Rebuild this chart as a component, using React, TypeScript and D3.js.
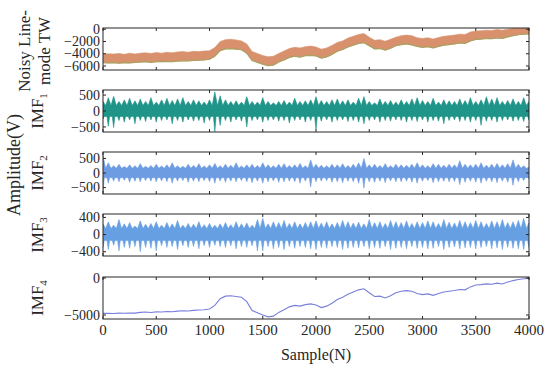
import * as d3 from 'd3';

// sample positions (every 50 samples)
const samples = d3.range(0, 4001, 50);
const xTicks = [0, 500, 1000, 1500, 2000, 2500, 3000, 3500, 4000];

// noisy line-mode travelling wave: upper / lower envelope
const noisyHi = [
  -4100, -4000, -4050, -3950, -4100, -3900, -4050, -3900, -3850, -3950,
  -3800, -3900, -3750, -3850, -3700, -3650, -3750, -3600, -3650, -3550,
  -3500, -3000, -2000, -1700, -1650, -1750, -1900, -2400, -3650, -3950,
  -4300, -4500, -4400, -3950, -3550, -3150, -2950, -3050, -2850, -2750,
  -2900, -3250, -3050, -2650, -2150, -1900, -1450, -1150, -850, -700,
  -1300, -1800, -1700, -1950, -1650, -1300, -1050, -950, -1050, -1400,
  -1500, -1400, -1600, -1350, -1150, -1050, -950, -800, -850, -450,
  -300, -250, -150, -200, -50, -150, 0, 100, 150, 150,
  150,
];
const noisyLo = [
  -5450, -5500, -5450, -5550, -5450, -5500, -5400, -5350, -5300, -5400,
  -5300, -5300, -5250, -5300, -5200, -5150, -5150, -5100, -5050, -5000,
  -4900, -4400, -3500, -3200, -3150, -3250, -3350, -3900, -5100, -5400,
  -5700, -5950, -5850, -5350, -5000, -4600, -4400, -4550, -4300, -4250,
  -4350, -4700, -4500, -4100, -3600, -3300, -2900, -2600, -2300, -2200,
  -2700, -3200, -3150, -3400, -3100, -2700, -2500, -2400, -2550, -2800,
  -2950, -2850, -3050, -2800, -2600, -2500, -2400, -2250, -2300, -1900,
  -1650, -1600, -1500, -1550, -1400, -1500, -1250, -1050, -900, -800,
  -750,
];

const imf1Hi = [
  300, 420, 460, 300, 350, 400, 320, 380, 300, 420,
  280, 350, 400, 330, 380, 420, 300, 350, 320, 280,
  350, 600, 480, 350, 300, 320, 280, 450, 300, 280,
  420, 300, 260, 300, 330, 280, 400, 300, 320, 350,
  450, 330, 300, 350, 380, 320, 350, 280, 400, 450,
  300, 260, 380, 300, 330, 280, 350, 300, 380, 420,
  330, 300, 400, 280, 350, 320, 300, 380, 330, 420,
  300, 350, 450, 380, 420, 300, 330, 380, 300, 420,
  300,
];
const imf1Lo = [
  -250, -480, -520, -300, -350, -280, -400, -300, -330, -280,
  -350, -300, -280, -400, -300, -350, -280, -320, -300, -380,
  -300, -650, -450, -300, -350, -280, -320, -500, -300, -280,
  -350, -300, -280, -320, -300, -380, -300, -280, -350, -300,
  -580, -320, -280, -350, -300, -280, -330, -300, -350, -400,
  -300, -280, -350, -300, -320, -280, -300, -350, -300, -330,
  -280, -350, -300, -320, -400, -300, -280, -330, -300, -350,
  -300, -450, -320, -300, -350, -300, -280, -320, -300, -330,
  -280,
];

const imf2Hi = [
  600, 350, 250, 300, 220, 280, 250, 320, 230, 260,
  300, 240, 280, 350, 250, 230, 300, 260, 320, 240,
  280, 330, 250, 300, 270, 350, 240, 280, 300, 260,
  350, 280, 250, 300, 320, 260, 280, 330, 250, 450,
  300, 270, 250, 300, 280, 320, 260, 300, 350, 500,
  280, 300, 260, 320, 250, 300, 280, 270, 300, 350,
  280, 250, 320, 300, 270, 300, 280, 420, 300, 280,
  300, 350, 270, 300, 330, 280, 320, 450, 300, 250,
  200,
];
const imf2Lo = [
  -650, -350, -280, -300, -250, -320, -280, -300, -260, -280,
  -300, -270, -300, -350, -280, -260, -320, -280, -300, -260,
  -300, -350, -270, -320, -280, -300, -260, -300, -330, -280,
  -350, -300, -270, -320, -300, -280, -300, -350, -280, -480,
  -300, -280, -260, -320, -300, -330, -280, -300, -350, -520,
  -300, -320, -280, -330, -270, -300, -300, -280, -320, -350,
  -280, -260, -330, -300, -280, -300, -290, -400, -320, -280,
  -320, -350, -280, -300, -330, -280, -320, -420, -300, -260,
  -200,
];

const imf3Hi = [
  250, 300, 220, 350, 250, 280, 200, 320, 240, 260,
  300, 220, 280, 250, 330, 220, 260, 240, 300, 230,
  260, 220, 250, 280, 230, 300, 250, 270, 220, 350,
  380, 250, 300, 280, 330, 260, 300, 250, 280, 300,
  320, 270, 300, 250, 280, 330, 300, 270, 290, 250,
  350, 280, 300, 260, 330, 300, 280, 320, 260, 300,
  280, 320, 300, 260, 350, 290, 270, 330, 300, 280,
  330, 300, 260, 320, 300, 350, 280, 300, 330, 380,
  280,
];
const imf3Lo = [
  -300, -350, -250, -380, -300, -320, -280, -400, -300, -320,
  -380, -260, -300, -280, -350, -260, -300, -280, -330, -260,
  -300, -250, -280, -300, -260, -330, -280, -300, -260, -380,
  -380, -280, -330, -300, -350, -280, -320, -280, -300, -330,
  -350, -300, -320, -280, -300, -350, -320, -300, -310, -280,
  -330, -300, -320, -280, -350, -320, -300, -330, -280, -320,
  -300, -330, -320, -280, -350, -300, -290, -330, -310, -300,
  -330, -300, -280, -330, -310, -350, -300, -320, -330, -350,
  -300,
];

// solid core of each IMF band
const imfCore = [170, 160, 140];

// residual trend
const imf4 = [
  -4780, -4760, -4800, -4740, -4770, -4720, -4750, -4640, -4600, -4660,
  -4580, -4600, -4520, -4560, -4480, -4420, -4450, -4380, -4330, -4300,
  -4180, -3700, -2800, -2450, -2400, -2500, -2600, -3200, -4400, -4700,
  -5000, -5250, -5150, -4650, -4300, -3900, -3700, -3800, -3600, -3500,
  -3650, -4000, -3800, -3400, -2900, -2600, -2200, -1900, -1600, -1450,
  -2000, -2500, -2450, -2700, -2400, -2000, -1800, -1700, -1800, -2100,
  -2250, -2150, -2350, -2100, -1900, -1800, -1700, -1550, -1600, -1200,
  -950, -900, -800, -850, -700, -800, -550, -350, -200, -100,
  -50,
];

const FONT = '"Liberation Serif", "Times New Roman", serif';
const INK = '#262626';
const left = 103;
const right = 529;
const panelH = 42;
const panelTops = [28, 90, 152, 214, 277];

const x = d3.scaleLinear().domain([0, 4000]).range([left, right]);

type Panel = {
  label: React.ReactNode;
  domain: [number, number];
  ticks: number[];
  hi?: number[];
  lo?: number[];
  core?: number;
  line?: number[];
  color: string;
  edge?: string;
};

const fmt = (d: number) => (d < 0 ? '\u2212' + Math.abs(d) : String(d));

// band path: peaks at each envelope sample, dropping back to the core between them
function band(hi: number[], lo: number[], y: d3.ScaleLinear<number, number>, core?: number) {
  const upper: [number, number][] = [];
  const lower: [number, number][] = [];
  samples.forEach((s, i) => {
    upper.push([x(s), y(hi[i])]);
    lower.push([x(s), y(lo[i])]);
    if (core !== undefined && i < samples.length - 1) {
      upper.push([x(s + 25), y(core)]);
      lower.push([x(s + 12), y(-core)]);
      lower.push([x(s + 37), y(-core)]);
    }
  });
  return (d3.line()([...upper, ...lower.reverse()]) || '') + 'Z';
}

const imfLabel = (n: number) => (
  <>
    IMF<tspan fontSize={11} dy={4}>{n}</tspan>
  </>
);

const panels: Panel[] = [
  { label: null, domain: [-6650, 200], ticks: [0, -2000, -4000, -6000], hi: noisyHi, lo: noisyLo, color: '#d9906c', edge: '#a9a262' },
  { label: imfLabel(1), domain: [-660, 660], ticks: [500, 0, -500], hi: imf1Hi, lo: imf1Lo, core: imfCore[0], color: '#1f9488' },
  { label: imfLabel(2), domain: [-720, 720], ticks: [500, 0, -500], hi: imf2Hi, lo: imf2Lo, core: imfCore[1], color: '#6e9ce2' },
  { label: imfLabel(3), domain: [-500, 480], ticks: [400, 0, -400], hi: imf3Hi, lo: imf3Lo, core: imfCore[2], color: '#66a0e2' },
  { label: imfLabel(4), domain: [-5540, 135], ticks: [0, -5000], line: imf4, color: '#7a7fdc' },
];

export default function App() {
  return (
    <svg width={550} height={372} style={{ position: 'absolute', left: 0, top: 0, background: '#fff' }} fontFamily={FONT}>
      {panels.map((p, k) => {
        const top = panelTops[k];
        const y = d3.scaleLinear().domain(p.domain).range([top + panelH, top]);
        const mid = top + panelH / 2;
        return (
          <g key={k}>
            <defs>
              <clipPath id={`clip${k}`}>
                <rect x={left} y={top} width={right - left} height={panelH} />
              </clipPath>
            </defs>
            <g clipPath={`url(#clip${k})`}>
              {p.hi && p.lo && (
                <path d={band(p.hi, p.lo, y, p.core)} fill={p.color} stroke={p.color} strokeWidth={0.6} strokeLinejoin="round" />
              )}
              {p.edge && p.lo && (
                <path
                  d={d3.line<number>().x((_, i) => x(samples[i])).y((d) => y(d))(p.lo) || ''}
                  fill="none"
                  stroke={p.edge}
                  strokeWidth={1.2}
                />
              )}
              {p.line && (
                <path
                  d={d3.line<number>().x((_, i) => x(samples[i])).y((d) => y(d))(p.line) || ''}
                  fill="none"
                  stroke={p.color}
                  strokeWidth={1.1}
                />
              )}
            </g>
            <rect x={left} y={top} width={right - left} height={panelH} fill="none" stroke={INK} strokeWidth={1} />
            {xTicks.map((t) => (
              <g key={t} stroke={INK}>
                <line x1={x(t)} x2={x(t)} y1={top} y2={top + 3} />
                <line x1={x(t)} x2={x(t)} y1={top + panelH} y2={top + panelH - 3} />
              </g>
            ))}
            {p.ticks.map((t) => (
              <g key={t}>
                <line x1={left} x2={left + 3} y1={y(t)} y2={y(t)} stroke={INK} />
                <line x1={right} x2={right - 3} y1={y(t)} y2={y(t)} stroke={INK} />
                <text x={left - 3} y={y(t)} dy="0.33em" textAnchor="end" fontSize={14} fill={INK}>
                  {fmt(t)}
                </text>
              </g>
            ))}
            {k === 0 ? (
              <g fontSize={17} fill={INK} textAnchor="middle">
                <text transform={`translate(24,${mid + 2}) rotate(-90)`} dy="0.35em">Noisy Line-</text>
                <text transform={`translate(44,${mid + 2}) rotate(-90)`} dy="0.35em">mode TW</text>
              </g>
            ) : (
              <text transform={`translate(37,${mid}) rotate(-90)`} dy="0.35em" fontSize={17} fill={INK} textAnchor="middle">
                {p.label}
              </text>
            )}
          </g>
        );
      })}
      {xTicks.map((t) => (
        <text key={t} x={x(t)} y={335} textAnchor="middle" fontSize={15} fill={INK}>
          {t}
        </text>
      ))}
      <text x={316} y={360} textAnchor="middle" fontSize={16} fill={INK}>Sample(N)</text>
      <text transform="translate(14,165) rotate(-90)" dy="0.35em" textAnchor="middle" fontSize={18} fill={INK}>
        Amplitude(V)
      </text>
    </svg>
  );
}
